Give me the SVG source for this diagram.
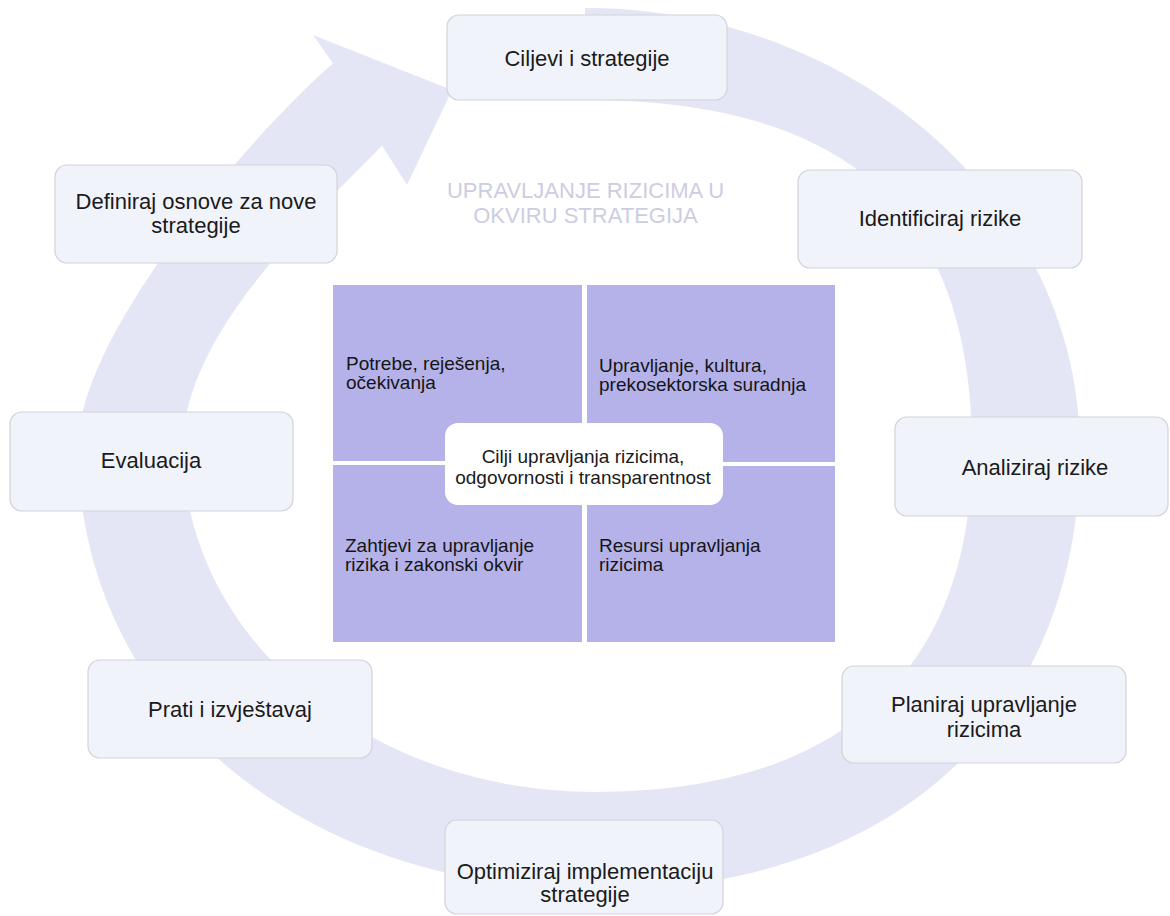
<svg xmlns="http://www.w3.org/2000/svg" width="1170" height="916" viewBox="0 0 1170 916">
<style>
.box{fill:#f1f3fa;stroke:#d2d3da;stroke-width:1.2}
.lbl{font-family:"Liberation Sans",Arial,sans-serif;font-size:22px;fill:#1a1a1a;text-anchor:middle}
.q{fill:#b4b2e9}
.qt{font-family:"Liberation Sans",Arial,sans-serif;font-size:19px;fill:#151515}
.ct{font-family:"Liberation Sans",Arial,sans-serif;font-size:19px;fill:#1a1a1a;text-anchor:middle}
.title{font-family:"Liberation Sans",Arial,sans-serif;font-size:22px;fill:#cdcde2;text-anchor:middle}
</style>
<rect width="1170" height="916" fill="#ffffff"/>
<g id="connectors">
<path id="cycle-arrow" d="M585,8 C857,8 1080,207 1080,450 C1080,720 892,890 600,890 C297,890 78,704 78,447 C78,330 263,123 333,63.4 L313,35 L452,90 L407,185 L382,145.7 C322,208 183,330 183,447 C183,638 368,792 595,792 C840,792 972,672 972,450 C972,212 848,100 585,100 Z" fill="#e4e6f5"/>
</g>
<g id="title">
<text class="title" x="585.5" y="198">UPRAVLJANJE RIZICIMA U</text>
<text class="title" x="585.5" y="223">OKVIRU STRATEGIJA</text>
</g>
<g id="center">
<rect class="q" x="333" y="285" width="249" height="176"/>
<rect class="q" x="587" y="285" width="248" height="177"/>
<rect class="q" x="333" y="465" width="249" height="177"/>
<rect class="q" x="587" y="466" width="248" height="176"/>
<text class="qt" x="346" y="370">Potrebe, reješenja,</text>
<text class="qt" x="346" y="389">očekivanja</text>
<text class="qt" x="599" y="372">Upravljanje, kultura,</text>
<text class="qt" x="599" y="391">prekosektorska suradnja</text>
<text class="qt" x="345" y="552">Zahtjevi za upravljanje</text>
<text class="qt" x="345" y="571">rizika i zakonski okvir</text>
<text class="qt" x="599" y="552">Resursi upravljanja</text>
<text class="qt" x="599" y="571">rizicima</text>
<rect x="445" y="423" width="278" height="82" rx="13" fill="#ffffff"/>
<text class="ct" x="583" y="463">Cilji upravljanja rizicima,</text>
<text class="ct" x="583" y="484">odgovornosti i transparentnost</text>
</g>
<g id="n1"><rect class="box" x="447" y="15" width="280" height="85" rx="12"/><text class="lbl" x="587" y="66">Ciljevi i strategije</text></g>
<g id="n2"><rect class="box" x="798" y="170" width="284" height="98" rx="12"/><text class="lbl" x="940" y="226">Identificiraj rizike</text></g>
<g id="n3"><rect class="box" x="895" y="417" width="273" height="99" rx="12"/><text class="lbl" x="1035" y="475">Analiziraj rizike</text></g>
<g id="n4"><rect class="box" x="842" y="666" width="284" height="97" rx="12"/><text class="lbl" x="984" y="712">Planiraj upravljanje</text><text class="lbl" x="984" y="737">rizicima</text></g>
<g id="n5"><rect class="box" x="445" y="820" width="278" height="94" rx="12"/><text class="lbl" x="585" y="879">Optimiziraj implementaciju</text><text class="lbl" x="585" y="902">strategije</text></g>
<g id="n6"><rect class="box" x="88" y="660" width="284" height="98" rx="12"/><text class="lbl" x="230" y="717">Prati i izvještavaj</text></g>
<g id="n7"><rect class="box" x="10" y="412" width="283" height="99" rx="12"/><text class="lbl" x="151" y="468">Evaluacija</text></g>
<g id="n8"><rect class="box" x="55" y="165" width="282" height="98" rx="12"/><text class="lbl" x="196" y="209">Definiraj osnove za nove</text><text class="lbl" x="196" y="233">strategije</text></g>
</svg>
